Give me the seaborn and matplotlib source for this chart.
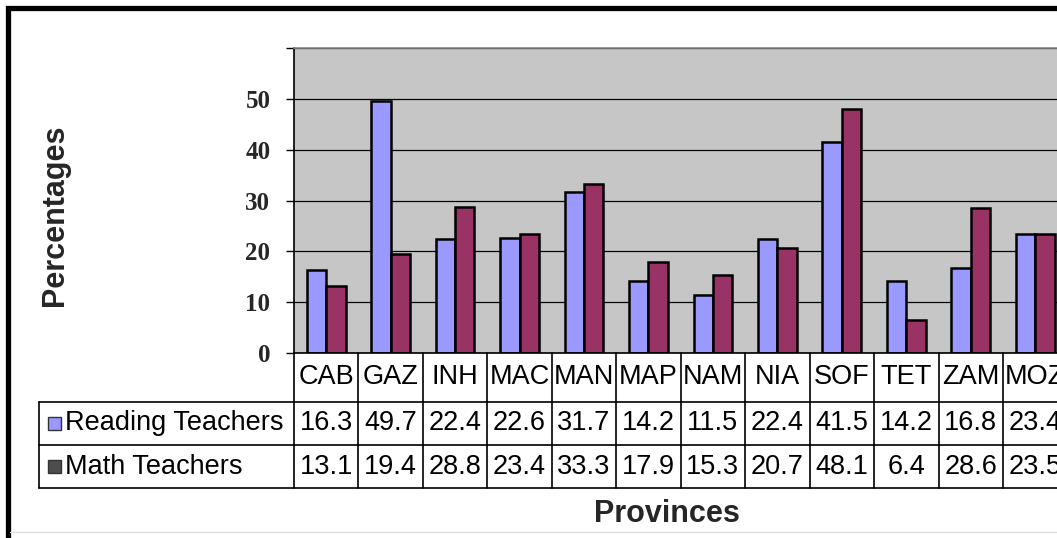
import matplotlib
matplotlib.use("Agg")
import matplotlib.pyplot as plt
import pandas as pd
import seaborn as sns
from matplotlib.lines import Line2D
from matplotlib.patches import Rectangle
from matplotlib.transforms import blended_transform_factory

# ---- data -------------------------------------------------------------
provinces = ["CAB", "GAZ", "INH", "MAC", "MAN", "MAP", "NAM", "NIA",
             "SOF", "TET", "ZAM", "MOZ"]
reading_teachers = [16.3, 49.7, 22.4, 22.6, 31.7, 14.2, 11.5, 22.4,
                    41.5, 14.2, 16.8, 23.4]
math_teachers = [13.1, 19.4, 28.8, 23.4, 33.3, 17.9, 15.3, 20.7,
                 48.1, 6.4, 28.6, 23.5]
series_names = ["Reading Teachers", "Math Teachers"]
y_ticks = [0, 10, 20, 30, 40, 50, 60]
y_tick_labels = ["0", "10", "20", "30", "40", "50", ""]

# ---- style ------------------------------------------------------------
sns.set_style("white")
plt.rcParams["font.family"] = ["Liberation Sans", "DejaVu Sans"]

bar_colors = ["#9999FF", "#993366"]
key_colors = ["#9999FF", "#4D4D4D"]

df = pd.DataFrame({
    "Province": provinces * 2,
    "Percent": reading_teachers + math_teachers,
    "Series": [series_names[0]] * len(provinces) + [series_names[1]] * len(provinces),
})

W, H = 1057, 538
fig = plt.figure(figsize=(W / 100, H / 100), dpi=100)
fig.patch.set_facecolor("white")

# plot area (pixel geometry converted to figure fractions)
ax_left, ax_top, ax_bottom, cell_w = 294, 48.2, 353, 64.45
ax_h = ax_bottom - ax_top
ax = fig.add_axes([ax_left / W, (H - ax_bottom) / H,
                   cell_w * len(provinces) / W, ax_h / H])

sns.barplot(data=df, x="Province", y="Percent", hue="Series",
            order=provinces, hue_order=series_names, palette=bar_colors,
            saturation=1, width=0.6, edgecolor="black", linewidth=1.8,
            errorbar=None, legend=False, ax=ax)

ax.set_xlim(-0.5, len(provinces) - 0.5)
ax.set_ylim(0, 60)
ax.set_facecolor("#C6C6C6")
ax.set_axisbelow(True)
ax.yaxis.grid(True, color="black", linewidth=0.9)
ax.xaxis.grid(False)
ax.set_xticks([])
ax.set_xlabel("")
ax.set_ylabel("")
ax.set_yticks(y_ticks)
ax.set_yticklabels(y_tick_labels, fontfamily="Liberation Serif",
                   fontweight="bold", fontsize=18)
ax.tick_params(axis="y", direction="out", length=6, width=1.0,
               color="black", pad=11, left=True)
for side in ("left", "bottom"):
    ax.spines[side].set_color("black")
    ax.spines[side].set_linewidth(1.2)
ax.spines["top"].set_color("#888888")
ax.spines["top"].set_linewidth(1.2)
ax.spines["right"].set_visible(False)

# ---- data table under the plot ----------------------------------------
tr = blended_transform_factory(ax.transData, ax.transAxes)


def below(px):
    """Axes-fraction y for a distance in pixels below the x axis."""
    return -px / ax_h


row_lines = [below(49), below(92), below(135)]
row_mid = [below(24.5), below(70.5), below(113.5)]
legend_left = -0.5 - (ax_left - 39) / cell_w
x_right = len(provinces) - 0.5
line_kw = dict(color="black", linewidth=1.2, transform=tr, clip_on=False)

# vertical cell separators
for k in range(len(provinces) + 1):
    ax.plot([k - 0.5, k - 0.5], [0, row_lines[2]], **line_kw)
# horizontal separators
ax.plot([legend_left, x_right], [row_lines[0], row_lines[0]], **line_kw)
ax.plot([legend_left, x_right], [row_lines[1], row_lines[1]], **line_kw)
ax.plot([legend_left, x_right], [row_lines[2], row_lines[2]], **line_kw)
ax.plot([legend_left, legend_left], [row_lines[0], row_lines[2]], **line_kw)

txt_kw = dict(transform=tr, clip_on=False, fontsize=19.5, va="center",
              color="black")
for i, p in enumerate(provinces):
    ax.text(i, row_mid[0], p, ha="center", **txt_kw)
for values, ymid in ((reading_teachers, row_mid[1]), (math_teachers, row_mid[2])):
    for i, v in enumerate(values):
        ax.text(i, ymid, f"{v:g}", ha="center", **txt_kw)

# series keys and names
key_w = 13 / cell_w
key_h = 13 / ax_h
key_x = -0.5 - (ax_left - 48) / cell_w
for name, color, ymid in zip(series_names, key_colors, row_mid[1:]):
    ax.add_patch(Rectangle((key_x, ymid - key_h / 2), key_w, key_h,
                           facecolor=color, edgecolor="#333333",
                           linewidth=1.0, transform=tr, clip_on=False))
    ax.text(-0.5 - (ax_left - 65) / cell_w, ymid, name, ha="left", **txt_kw)

# ---- axis titles -------------------------------------------------------
fig.text(55 / W, 1 - 215 / H, "Percentages", rotation=90, ha="center",
         va="center", fontsize=22, fontweight="bold")
fig.text(667 / W, 1 - 514 / H, "Provinces", ha="center", va="center",
         fontsize=22, fontweight="bold")

# ---- chart frame -------------------------------------------------------
fx, fy = 7.5 / W, 1 - 7.5 / H
fig.add_artist(Line2D([fx, fx, 1.0], [0.0, fy, fy], color="black",
                      linewidth=3.8, solid_joinstyle="miter",
                      transform=fig.transFigure))
fig.add_artist(Line2D([10 / W, 1.0], [1 - 532 / H, 1 - 532 / H],
                      color="#DDDDDD", linewidth=1.0,
                      transform=fig.transFigure))

fig.savefig("out.png", dpi=100, facecolor="white")
